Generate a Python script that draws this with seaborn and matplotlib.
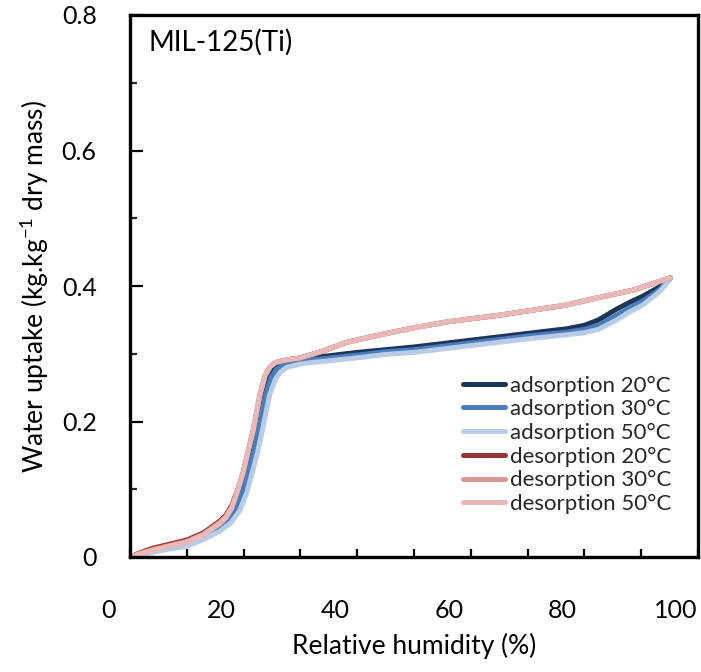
import numpy as np
import pandas as pd
import matplotlib
matplotlib.use("Agg")
import matplotlib.pyplot as plt
import matplotlib.transforms as mtransforms
import seaborn as sns

# ---- data ----
ads20_x = [0, 2, 4, 6.5, 10, 13, 15.8, 17.2, 18.4, 19.5, 20.4, 21.4, 22.3, 23.5, 24.5, 25.3, 26.4, 28, 32, 40, 45, 50, 60, 70, 77, 80, 82.5, 85.7, 88, 90.3, 93.3, 95.1]
ads20_y = [0, 0.004, 0.009, 0.014, 0.019, 0.030, 0.043, 0.055, 0.072, 0.098, 0.124, 0.156, 0.187, 0.240, 0.268, 0.280, 0.286, 0.290, 0.294, 0.302, 0.306, 0.310, 0.320, 0.330, 0.337, 0.342, 0.350, 0.366, 0.376, 0.385, 0.399, 0.412]

ads30_x = [0, 2, 4, 6.5, 10, 13, 15.8, 17.4, 18.7, 19.9, 20.8, 21.8, 22.6, 23.9, 24.9, 25.8, 27, 29, 32, 40, 45, 50, 60, 70, 77, 80, 82.5, 85.7, 88, 90.3, 93.3, 95.1]
ads30_y = [0, 0.004, 0.008, 0.013, 0.018, 0.028, 0.041, 0.053, 0.070, 0.097, 0.124, 0.156, 0.187, 0.240, 0.266, 0.277, 0.283, 0.288, 0.291, 0.298, 0.303, 0.306, 0.316, 0.326, 0.332, 0.336, 0.342, 0.357, 0.368, 0.378, 0.395, 0.412]

ads50_x = [0, 2, 4, 6.5, 10, 13, 15.8, 17.8, 19.3, 20.6, 21.5, 22.5, 23.3, 24.6, 25.6, 26.5, 27.6, 30, 32, 40, 45, 50, 60, 70, 77, 80, 82.5, 85.7, 88, 90.3, 93.3, 95.1]
ads50_y = [0, 0.003, 0.007, 0.011, 0.016, 0.026, 0.038, 0.051, 0.068, 0.096, 0.124, 0.156, 0.187, 0.240, 0.262, 0.273, 0.280, 0.285, 0.287, 0.294, 0.299, 0.302, 0.312, 0.322, 0.328, 0.331, 0.336, 0.350, 0.362, 0.372, 0.392, 0.410]

des20_x = [0, 2, 4, 6.5, 10, 13, 15.8, 16.9, 17.9, 18.9, 19.9, 20.8, 21.7, 22.9, 23.8, 24.7, 25.6, 27, 30, 34, 38.2, 44, 49.8, 55.8, 65.1, 72.2, 76.9, 82, 88.6, 95.1]
des20_y = [0, 0.007, 0.013, 0.018, 0.025, 0.036, 0.053, 0.062, 0.076, 0.098, 0.124, 0.156, 0.187, 0.240, 0.268, 0.281, 0.287, 0.290, 0.294, 0.304, 0.317, 0.328, 0.338, 0.347, 0.357, 0.366, 0.372, 0.382, 0.394, 0.412]

des30_x = [0, 2, 4, 6.5, 10, 13, 15.8, 16.9, 17.9, 18.9, 19.9, 20.8, 21.7, 22.9, 23.8, 24.7, 25.6, 27, 30, 34, 38.2, 44, 49.8, 55.8, 65.1, 72.2, 76.9, 82, 88.6, 95.1]
des30_y = [0, 0.006, 0.011, 0.016, 0.023, 0.034, 0.051, 0.060, 0.074, 0.097, 0.124, 0.156, 0.187, 0.240, 0.268, 0.281, 0.287, 0.290, 0.294, 0.304, 0.317, 0.328, 0.338, 0.347, 0.357, 0.366, 0.372, 0.382, 0.394, 0.412]

des50_x = [0, 2, 4, 6.5, 10, 13, 15.8, 16.9, 17.9, 18.9, 19.9, 20.8, 21.7, 22.9, 23.8, 24.7, 25.6, 27, 30, 34, 38.2, 44, 49.8, 55.8, 65.1, 72.2, 76.9, 82, 88.6, 95.1]
des50_y = [0, 0.005, 0.010, 0.015, 0.022, 0.033, 0.049, 0.058, 0.072, 0.096, 0.124, 0.156, 0.187, 0.240, 0.268, 0.281, 0.287, 0.290, 0.294, 0.304, 0.317, 0.328, 0.338, 0.347, 0.357, 0.366, 0.372, 0.382, 0.394, 0.412]

series_names = ["adsorption 20°C", "adsorption 30°C", "adsorption 50°C",
                "desorption 20°C", "desorption 30°C", "desorption 50°C"]
series_x = [ads20_x, ads30_x, ads50_x, des20_x, des30_x, des50_x]
series_y = [ads20_y, ads30_y, ads50_y, des20_y, des30_y, des50_y]
colors = ["#1d3658", "#4a7dbb", "#b8cce5", "#943634", "#d99694", "#e8b9b8"]

x_tick_labels = ["0", "20", "40", "60", "80", "100"]
y_tick_labels = ["0", "0.2", "0.4", "0.6", "0.8"]

rows = []
for name, xs, ys in zip(series_names, series_x, series_y):
    for i, (xv, yv) in enumerate(zip(xs, ys)):
        rows.append({"series": name, "rh": xv, "uptake": yv, "order": i})
df = pd.DataFrame(rows)

sns.set_theme(style="white")
plt.rcParams["font.family"] = ["Lato", "DejaVu Sans"]

fig = plt.figure(figsize=(7.01, 6.72), dpi=100)
ax = fig.add_axes([130 / 701, (672 - 557) / 672, (698 - 130) / 701, (557 - 15) / 672])

sns.lineplot(data=df, x="rh", y="uptake", hue="series", hue_order=series_names,
             palette=colors, sort=False, estimator=None,
             linewidth=3.6, ax=ax, legend=True,
             solid_joinstyle="round", solid_capstyle="round")

ax.set_xlim(0, 100)
ax.set_ylim(0, 0.8)

ax.set_xticks([0, 20, 40, 60, 80, 100])
ax.set_xticklabels(x_tick_labels)
ax.set_xticks(np.arange(10, 100, 20), minor=True)
ax.set_yticks([0, 0.2, 0.4, 0.6, 0.8])
ax.set_yticklabels(y_tick_labels)
ax.set_yticks(np.arange(0.1, 0.8, 0.2), minor=True)

ax.tick_params(axis="x", which="both", direction="in", length=6, width=1.6,
               labelsize=18, pad=30, colors="black", bottom=True)
ax.tick_params(axis="y", which="major", direction="in", length=9, width=1.6,
               labelsize=18, pad=24, colors="black", left=True)
ax.tick_params(axis="y", which="minor", direction="in", length=5, width=1.6, left=True)

offset = mtransforms.ScaledTranslation(-22 / 100, 0, fig.dpi_scale_trans)
for lab in ax.get_xticklabels():
    lab.set_transform(lab.get_transform() + offset)

for sp in ax.spines.values():
    sp.set_visible(True)
    sp.set_color("black")
    sp.set_linewidth(2.4)

ax.set_xlabel("Relative humidity (%)", fontsize=19, labelpad=8, color="black")
ax.set_ylabel("Water uptake (kg.kg$^{\\mathregular{-1}}$ dry mass)", fontsize=19,
              labelpad=8, color="black")

ax.text(0.033, 0.95, "MIL-125(Ti)", transform=ax.transAxes, fontsize=20,
        ha="left", va="center", color="black")

leg = ax.legend(loc="upper left", bbox_to_anchor=(0.586, 0.335), frameon=False,
                fontsize=16, handlelength=1.9, handletextpad=0.2, labelspacing=0.16,
                borderpad=0, borderaxespad=0)
for line in leg.get_lines():
    line.set_linewidth(3.6)

fig.savefig("out.png", dpi=100)
